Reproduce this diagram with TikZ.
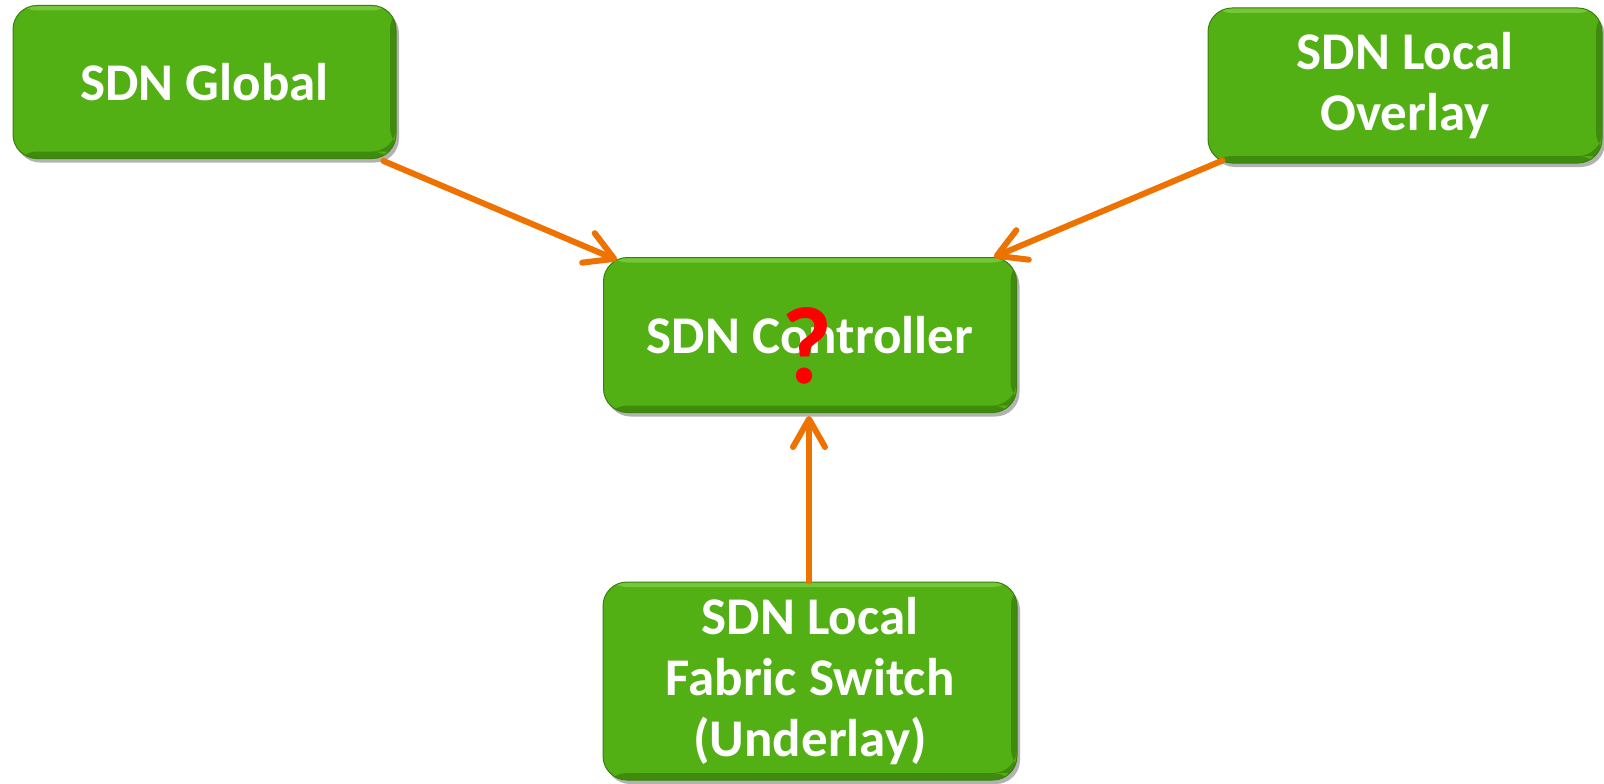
\documentclass[tikz,border=0pt]{standalone}
\usepackage{fontspec}
\setmainfont{Carlito}
\usetikzlibrary{arrows.meta,shadows,calc}
\definecolor{boxgreen}{RGB}{82,176,20}
\definecolor{edgegreen}{RGB}{58,128,12}
\definecolor{darkgreen}{RGB}{48,110,8}
\definecolor{lightgreen}{RGB}{140,215,80}
\definecolor{arroworange}{RGB}{237,114,0}
\definecolor{qred}{RGB}{255,0,0}
\begin{document}
\begin{tikzpicture}[x=1pt,y=-1pt,
  sdnbox/.style={rounded corners=24pt, fill=boxgreen, draw=edgegreen, line width=1pt,
    text=white, font=\fontsize{53}{61}\selectfont\bfseries, align=center, inner sep=0pt,
    drop shadow={shadow xshift=3pt,shadow yshift=-4pt,opacity=0.3,fill=black},
    path picture={
      \fill[darkgreen,opacity=0.55] ([yshift=7pt]path picture bounding box.south west) rectangle (path picture bounding box.south east);
      \fill[darkgreen,opacity=0.55] ([xshift=-6pt]path picture bounding box.north east) rectangle ([yshift=7pt]path picture bounding box.south east);
      \fill[lightgreen,opacity=0.6] (path picture bounding box.north west) rectangle ([yshift=-5pt]path picture bounding box.north east);
    }},
  link/.style={draw=arroworange, line width=6pt, line cap=round,
    -{Straight Barb[round,length=28pt,width=32pt]}}]
\useasboundingbox (0,0) rectangle (1604,784);
\node[sdnbox, minimum width=383pt, minimum height=153pt] (g) at (204.5,82) {SDN Global};
\node[sdnbox, minimum width=394pt, minimum height=155pt] (o) at (1405,85.5) {SDN Local\\Overlay};
\node[sdnbox, minimum width=413pt, minimum height=155pt] (c) at (810,335) {SDN Controller};
\node[sdnbox, minimum width=414pt, minimum height=198pt] (f) at (810,681) {SDN Local\\Fabric Switch\\(Underlay)};
\node[anchor=base, text=qred, inner sep=0pt, font=\fontsize{110}{110}\selectfont\bfseries] (q) at (807,383) {?};
\draw[link] ($(g.south east)+(-13,2)$) -- ($(c.north west)+(14,3)$);
\draw[link] ($(o.south west)+(15,-3)$) -- ($(c.north east)+(-23,0)$);
\draw[link] ($(f.north)+(-1,0)$) -- ($(c.south)+(-1,3)$);
\end{tikzpicture}
\end{document}
